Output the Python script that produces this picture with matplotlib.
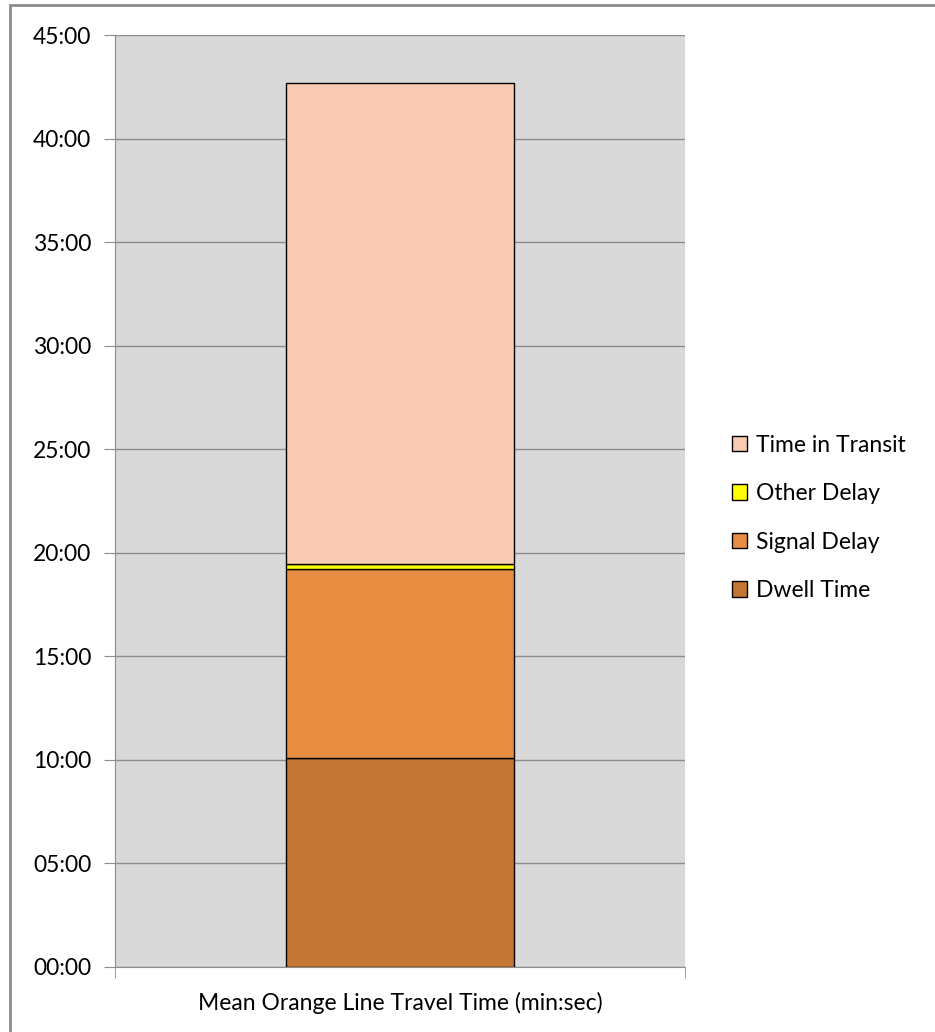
import numpy as np
import matplotlib.pyplot as plt
from matplotlib.patches import Rectangle
from matplotlib.ticker import FuncFormatter, MultipleLocator

# values in minutes
category = ["Mean Orange Line Travel Time (min:sec)"]
segments = ["Dwell Time", "Signal Delay", "Other Delay", "Time in Transit"]
minutes = [10.08, 9.14, 0.24, 23.24]
colors = ["#c47635", "#e88e42", "#ffff00", "#f8cbb2"]

plt.rcParams['font.family'] = ['Lato', 'DejaVu Sans']

fig = plt.figure(figsize=(9.35, 10.32), dpi=100)
ax = fig.add_axes([0.123, 0.063, 0.610, 0.903])
ax.set_facecolor("#d9d9d9")

x = np.arange(len(category))
bottom = np.zeros(len(category))
handles = []
for name, val, col in zip(segments, minutes, colors):
    b = ax.bar(x, [val], 0.4, bottom=bottom, color=col, edgecolor="black",
               linewidth=1.0, label=name, zorder=3)
    handles.append(b)
    bottom += val

ax.set_xlim(-0.5, 0.5)
ax.set_ylim(0, 45)
ax.yaxis.set_major_locator(MultipleLocator(5))
ax.yaxis.set_major_formatter(FuncFormatter(lambda v, p: "%02d:00" % int(round(v))))
ax.grid(axis="y", color="#8c8c8c", linewidth=1.0, zorder=0)
ax.set_axisbelow(True)

ax.set_xticks(x)
ax.set_xticklabels(category)
ax.set_xticks([-0.5, 0.5], minor=True)
ax.tick_params(axis="x", which="major", length=0, pad=18, labelsize=16.5)
ax.tick_params(axis="x", which="minor", length=8, color="#8c8c8c")
ax.tick_params(axis="y", length=8, color="#8c8c8c", labelsize=16.5, pad=9)

for s in ["top", "right"]:
    ax.spines[s].set_visible(False)
ax.spines["left"].set_color("#8c8c8c")
ax.spines["bottom"].set_color("#8c8c8c")

leg = ax.legend(handles[::-1], segments[::-1], loc="center left",
                bbox_to_anchor=(1.045, 0.482), frameon=False, fontsize=16.5,
                handlelength=0.65, handleheight=0.65, handletextpad=0.4,
                labelspacing=1.2)

# outer chart border
fig.patches.append(Rectangle((0.011, -0.01), 0.995, 1.005, transform=fig.transFigure,
                             fill=False, edgecolor="#8c8c8c", linewidth=2))

plt.savefig("out.png", dpi=100)
